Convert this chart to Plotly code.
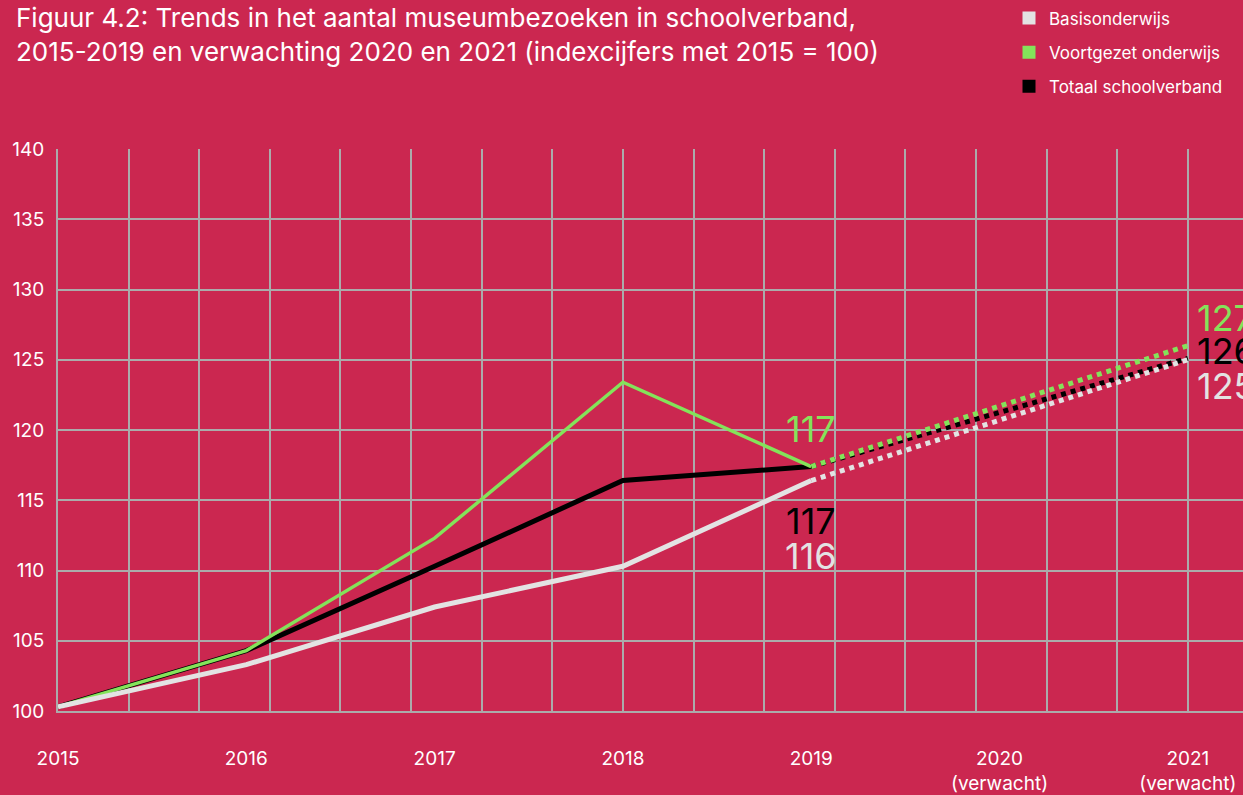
import plotly.graph_objects as go

# ---- data ----
years = [2015, 2016, 2017, 2018, 2019]
basis = [100.3, 103.3, 107.4, 110.3, 116.4]
voortgezet = [100.3, 104.3, 112.3, 123.4, 117.4]
totaal = [100.3, 104.3, 110.3, 116.4, 117.4]

fc_years = [2019, 2021]
basis_fc = [116.4, 125.0]
voortgezet_fc = [117.4, 126.0]
totaal_fc = [117.4, 125.1]

labels_2019 = {"Basisonderwijs": "116", "Voortgezet onderwijs": "117", "Totaal schoolverband": "117"}
labels_2021 = {"Basisonderwijs": "125", "Voortgezet onderwijs": "127", "Totaal schoolverband": "126"}

tick_years = [2015, 2016, 2017, 2018, 2019, 2020, 2021]
tick_text = ["2015", "2016", "2017", "2018", "2019", "2020<br>(verwacht)", "2021<br>(verwacht)"]

# ---- style ----
BG = "#CB2750"
GRID = "#ABABAB"
C_BASIS = "#E3E3E3"
C_VO = "#84E35A"
C_TOT = "#000000"
FONT = "Inter"

fig = go.Figure()

# legend entries (square swatches)
for name, col in [("Basisonderwijs", C_BASIS), ("Voortgezet onderwijs", C_VO), ("Totaal schoolverband", C_TOT)]:
    fig.add_trace(go.Scatter(x=[None], y=[None], mode="markers", name=name, legendgroup=name,
                             marker=dict(symbol="square", size=13, color=col),
                             xaxis="x2", yaxis="y"))

# gridline carrier trace on main x axis
fig.add_trace(go.Scatter(x=[2015], y=[100], mode="markers", marker=dict(opacity=0),
                         showlegend=False, hoverinfo="skip", xaxis="x", yaxis="y"))

series = [
    ("Totaal schoolverband", totaal, totaal_fc, C_TOT, 5),
    ("Voortgezet onderwijs", voortgezet, voortgezet_fc, C_VO, 3.5),
    ("Basisonderwijs", basis, basis_fc, C_BASIS, 5),
]
for name, vals, fc, col, w in series:
    fig.add_trace(go.Scatter(x=fc_years, y=fc, mode="lines", showlegend=False, legendgroup=name,
                             line=dict(color=col, width=5, dash="5px,5px"),
                             xaxis="x2", yaxis="y", cliponaxis=False))
for name, vals, fc, col, w in series:
    fig.add_trace(go.Scatter(x=years, y=vals, mode="lines", showlegend=False, legendgroup=name,
                             line=dict(color=col, width=w), xaxis="x2", yaxis="y"))

# value labels
ann_font = dict(family=FONT, size=36)
fig.add_annotation(x=2019, y=120.1, xref="x2", yref="y", text=labels_2019["Voortgezet onderwijs"],
                   showarrow=False, font=dict(color=C_VO, **ann_font))
fig.add_annotation(x=2019, y=113.5, xref="x2", yref="y", text=labels_2019["Totaal schoolverband"],
                   showarrow=False, font=dict(color=C_TOT, **ann_font))
fig.add_annotation(x=2019, y=111.0, xref="x2", yref="y", text=labels_2019["Basisonderwijs"],
                   showarrow=False, font=dict(color=C_BASIS, **ann_font))
fig.add_annotation(x=2021, y=128.0, xref="x2", yref="y", text=labels_2021["Voortgezet onderwijs"],
                   showarrow=False, xanchor="left", xshift=7, font=dict(color=C_VO, **ann_font))
fig.add_annotation(x=2021, y=125.6, xref="x2", yref="y", text=labels_2021["Totaal schoolverband"],
                   showarrow=False, xanchor="left", xshift=7, font=dict(color=C_TOT, **ann_font))
fig.add_annotation(x=2021, y=123.1, xref="x2", yref="y", text=labels_2021["Basisonderwijs"],
                   showarrow=False, xanchor="left", xshift=7, font=dict(color=C_BASIS, **ann_font))

XR = [2015, 2021.293]
fig.update_layout(
    width=1243, height=795,
    paper_bgcolor=BG, plot_bgcolor=BG,
    margin=dict(l=58, r=0, t=149, b=82),
    font=dict(family=FONT, color="white", size=19),
    title=dict(text="Figuur 4.2: Trends in het aantal museumbezoeken in schoolverband,<br>"
                    "2015-2019 en verwachting 2020 en 2021 (indexcijfers met 2015 = 100)",
               x=16/1243, xanchor="left", xref="container",
               y=1 - 27/795, yanchor="top", yref="container",
               font=dict(family=FONT, size=26, color="white")),
    legend=dict(x=(1009-58)/1185, xanchor="left", y=(713+0)/564, yanchor="top",
                bgcolor="rgba(0,0,0,0)", font=dict(family=FONT, size=17, color="white"),
                itemwidth=30, tracegroupgap=9, traceorder="grouped"),
    xaxis=dict(range=XR, tick0=2015, dtick=0.375, showgrid=True, gridcolor=GRID, gridwidth=2,
               showticklabels=False, zeroline=False, showline=True, linecolor=GRID, linewidth=2,
               ticks=""),
    xaxis2=dict(range=XR, overlaying="x", side="bottom", tickvals=tick_years, ticktext=tick_text,
                showgrid=False, zeroline=False, showline=False, ticks="",
                ticklabelstandoff=34, tickfont=dict(family=FONT, size=19, color="white")),
    yaxis=dict(range=[100, 140], dtick=5, showgrid=True, gridcolor=GRID, gridwidth=2,
               zeroline=False, showline=True, linecolor=GRID, linewidth=2, ticks="",
               ticklabelstandoff=8, tickfont=dict(family=FONT, size=19, color="white")),
)

fig.write_html("out.html", config={"displayModeBar": False},
               post_script="document.body.style.margin='0';document.body.style.overflow='hidden';")
